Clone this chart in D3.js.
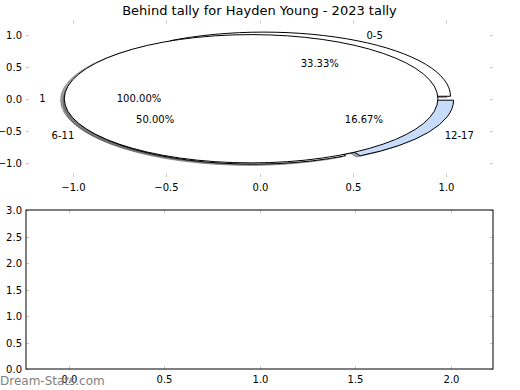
<!DOCTYPE html>
<html>
<head>
<meta charset="utf-8">
<script src="https://cdn.jsdelivr.net/npm/d3@7"></script>
<style>
  body { margin: 0; background: #fff; }
  text { font-family: 'DejaVu Sans', sans-serif; }
</style>
</head>
<body>
<svg id="chart" width="520" height="390"></svg>
<script>
// pie 1: age groups
var ageGroups = ['0-5', '6-11', '12-17']
var ageTally = [2, 3, 1]
var ageColors = ['#ffffff', '#ffffff', '#c6dcfa']
// pie 2: single count
var countLabels = ['1']
var countTally = [1]
var countColors = ['#ffffff']

var pieXTicks = [-1.0, -0.5, 0.0, 0.5, 1.0]
var pieYTicks = [-1.0, -0.5, 0.0, 0.5, 1.0]
var barXTicks = [0.0, 0.5, 1.0, 1.5, 2.0]
var barYTicks = [0.0, 0.5, 1.0, 1.5, 2.0, 2.5, 3.0]

var explode = 0.045
var svg = d3.select('#chart')
var tickColor = '#c4c4c4'

// top axes (pie)
var top1 = { left: 26, right: 493, top: 20.5, bottom: 177 }
var px = d3.scaleLinear().domain([-1.25, 1.25]).range([top1.left, top1.right])
var py = d3.scaleLinear().domain([-1.22, 1.22]).range([top1.bottom, top1.top])

svg.append('text')
   .attr('x', 259.5)
   .attr('y', 15)
   .attr('text-anchor', 'middle')
   .attr('font-size', 13)
   .text('Behind tally for Hayden Young - 2023 tally')

var drawTicks = function (g, xs, ys, box, fmt) {
  xs.forEach(function (v) {
    var X = Math.round(box.x(v)) + 0.5
    g.append('line').attr('x1', X).attr('x2', X).attr('y1', box.top).attr('y2', box.top + 3)
     .attr('stroke', tickColor)
    g.append('line').attr('x1', X).attr('x2', X).attr('y1', box.bottom).attr('y2', box.bottom - 3)
     .attr('stroke', tickColor)
    g.append('text').attr('x', X).attr('y', box.bottom + 13.5)
     .attr('text-anchor', 'middle').attr('font-size', 10)
     .text(fmt(v))
  })
  ys.forEach(function (v) {
    var Y = Math.round(box.y(v)) + 0.5
    g.append('line').attr('x1', box.left).attr('x2', box.left + 3).attr('y1', Y).attr('y2', Y)
     .attr('stroke', tickColor)
    g.append('line').attr('x1', box.right).attr('x2', box.right - 3).attr('y1', Y).attr('y2', Y)
     .attr('stroke', tickColor)
    g.append('text').attr('x', box.left - 4).attr('y', Y + 3.6)
     .attr('text-anchor', 'end').attr('font-size', 10)
     .text(fmt(v))
  })
}

var fmt1 = function (v) { return d3.format('.1f')(v).replace('-', '\u2212') }

// pie layout like matplotlib: start at 0 deg, counter-clockwise
var layout = function (labels, values, colors) {
  var total = d3.sum(values)
  var theta = 0
  return values.map(function (v, i) {
    var t1 = theta
    var t2 = theta + 2 * Math.PI * v / total
    theta = t2
    var mid = (t1 + t2) / 2
    return {
      label: labels[i], pct: 100 * v / total, color: colors[i],
      t1: t1, t2: t2, mid: mid,
      cx: explode * Math.cos(mid), cy: explode * Math.sin(mid)
    }
  })
}

var pie1 = layout(ageGroups, ageTally, ageColors)
var pie2 = layout(countLabels, countTally, countColors)

var kx = px(1) - px(0)
var ky = py(0) - py(1)
var arcGen = d3.arc().innerRadius(0).outerRadius(1)
var wedgePath = function (w) {
  return arcGen({ startAngle: Math.PI / 2 - w.t2, endAngle: Math.PI / 2 - w.t1 })
}

var pieG = svg.append('g')
var all = pie1.concat(pie2)

// shadows first (lower zorder)
all.forEach(function (w) {
  pieG.append('path')
      .attr('d', wedgePath(w))
      .attr('transform', 'translate(' + px(w.cx - 0.02) + ',' + py(w.cy - 0.02) + ') scale(' + kx + ',' + ky + ')')
      .attr('fill', '#4d4d4d')
      .attr('fill-opacity', 0.5)
      .attr('stroke', '#4d4d4d')
      .attr('stroke-opacity', 0.5)
      .attr('stroke-width', 1)
      .attr('vector-effect', 'non-scaling-stroke')
})

all.forEach(function (w) {
  pieG.append('path')
      .attr('d', wedgePath(w))
      .attr('transform', 'translate(' + px(w.cx) + ',' + py(w.cy) + ') scale(' + kx + ',' + ky + ')')
      .attr('fill', w.color)
      .attr('stroke', '#000')
      .attr('stroke-width', 1)
      .attr('vector-effect', 'non-scaling-stroke')
})

all.forEach(function (w) {
  var lx = w.cx + 1.1 * Math.cos(w.mid)
  var ly = w.cy + 1.1 * Math.sin(w.mid)
  pieG.append('text')
      .attr('x', px(lx))
      .attr('y', py(ly) + 3.6)
      .attr('text-anchor', lx > 0 ? 'start' : 'end')
      .attr('font-size', 10)
      .text(w.label)
  var qx = w.cx + 0.6 * Math.cos(w.mid)
  var qy = w.cy + 0.6 * Math.sin(w.mid)
  pieG.append('text')
      .attr('x', px(qx))
      .attr('y', py(qy) + 3.6)
      .attr('text-anchor', 'middle')
      .attr('font-size', 10)
      .text(d3.format('.2f')(w.pct) + '%')
})

drawTicks(svg.append('g'), pieXTicks, pieYTicks,
  { x: px, y: py, left: top1.left, right: top1.right, top: top1.top, bottom: top1.bottom }, fmt1)

// bottom axes (empty)
var bot = { left: 26, right: 493, top: 210, bottom: 369 }
var bx = d3.scaleLinear().domain([-0.225, 2.22]).range([bot.left, bot.right])
var by = d3.scaleLinear().domain([0, 3]).range([bot.bottom, bot.top])

var botG = svg.append('g')
drawTicks(botG, barXTicks, barYTicks,
  { x: bx, y: by, left: bot.left, right: bot.right, top: bot.top, bottom: bot.bottom }, fmt1)
botG.append('rect')
    .attr('x', bot.left)
    .attr('y', bot.top)
    .attr('width', bot.right - bot.left)
    .attr('height', bot.bottom - bot.top)
    .attr('fill', 'none')
    .attr('stroke', '#000')
    .attr('stroke-width', 1)

svg.append('text')
   .attr('x', 0)
   .attr('y', 385)
   .attr('font-size', 12)
   .attr('fill', '#808080')
   .text('Dream-Stats.com')
</script>
</body>
</html>
